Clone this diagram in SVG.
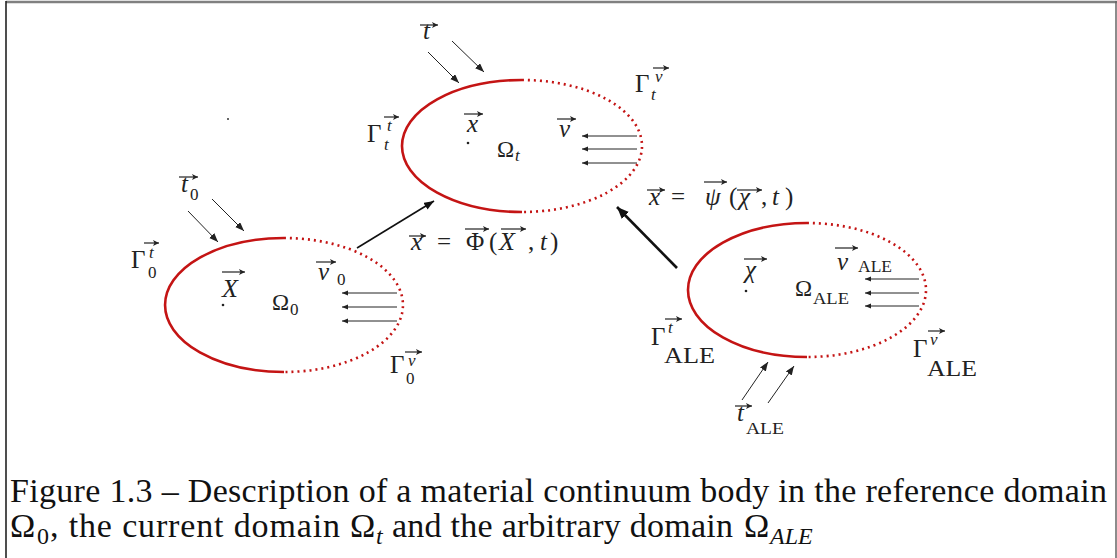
<svg xmlns="http://www.w3.org/2000/svg" width="1117" height="558" viewBox="0 0 1117 558">
<style>
.m{font-family:"Liberation Serif","DejaVu Serif",serif;fill:#222;font-size:25px}
.i{font-style:italic}
.s{font-size:17px}
.al{font-size:17px}
.solid{fill:none;stroke:#c41414;stroke-width:2.6}
.dot{fill:none;stroke:#c41414;stroke-width:2.6;stroke-dasharray:2 4;stroke-linecap:butt}
.tr{stroke:#222;stroke-width:1;fill:none;marker-end:url(#h1)}
.ve{stroke:#222;stroke-width:1;fill:none;marker-end:url(#h2)}
.va{stroke:#222;stroke-width:1.2;fill:none;marker-end:url(#hv)}
.cap{font-family:"Liberation Serif","DejaVu Serif",serif;fill:#111;font-size:34px}
.sub{font-size:24px}
</style>
<defs>
<marker id="h1" markerUnits="userSpaceOnUse" markerWidth="10" markerHeight="8" refX="9" refY="3.5" orient="auto"><path d="M0,0 L9,3.5 L0,7 z" fill="#222"/></marker>
<marker id="h2" markerUnits="userSpaceOnUse" markerWidth="7" markerHeight="6" refX="6" refY="2.5" orient="auto"><path d="M0,0 L6,2.5 L0,5 z" fill="#222"/></marker>
<marker id="h3" markerUnits="userSpaceOnUse" markerWidth="12" markerHeight="10" refX="10" refY="4" orient="auto"><path d="M0,0 L10,4 L0,8 z" fill="#111"/></marker>
<marker id="h4" markerUnits="userSpaceOnUse" markerWidth="14" markerHeight="12" refX="12" refY="5" orient="auto"><path d="M0,0 L12,5 L0,10 z" fill="#111"/></marker>
<marker id="hv" markerUnits="userSpaceOnUse" markerWidth="7" markerHeight="7" refX="6" refY="3" orient="auto"><path d="M0,0 L6,3 L0,6 L1.5,3 z" fill="#222"/></marker>
</defs>
<rect width="1117" height="558" fill="#fff"/>
<g id="frame">
<line x1="6" y1="2" x2="1117" y2="2" stroke="#808080" stroke-width="2.5"/>
<line x1="6" y1="1" x2="6" y2="558" stroke="#222" stroke-width="1.6"/>
<line x1="1116" y1="1" x2="1116" y2="558" stroke="#666" stroke-width="1.5"/>
<rect x="227" y="118" width="2" height="2" fill="#666"/>
</g>
<g id="domain-t">
<path class="solid" d="M522,80 A120,66 0 0 0 522,212"/>
<path class="dot" d="M522,80 A120,66 0 0 1 522,212"/>
<circle cx="468" cy="143" r="1.3" fill="#222"/>
<text class="m i" x="467" y="132">x</text>
<path class="va" d="M464,114 H483"/>
<text class="m" x="497" y="157" style="font-size:23px">Ω</text><text class="m i s" x="515" y="161">t</text>
<text class="m i" x="559" y="137">v</text>
<path class="va" d="M557,119 H576"/>
<text class="m" x="367" y="142">Γ</text><text class="m i s" x="384" y="150">t</text><text class="m i s" x="387" y="131">t</text>
<path class="va" d="M384,117 H399"/>
<text class="m" x="635" y="92">Γ</text><text class="m i s" x="651" y="100">t</text><text class="m i s" x="655" y="82">v</text>
<path class="va" d="M653,68 H669"/>
<text class="m i" x="423" y="39">t</text>
<path class="va" d="M420,25 H438"/>
</g>
<g id="domain-0">
<path class="solid" d="M284,238 A119,67 0 0 0 284,372"/>
<path class="dot" d="M284,238 A119,67 0 0 1 284,372"/>
<circle cx="223" cy="305" r="1.3" fill="#222"/>
<text class="m i" x="222" y="297" style="font-size:26px">X</text>
<path class="va" d="M222,272 H245"/>
<text class="m" x="272" y="310" style="font-size:23px">Ω</text><text class="m s" x="290" y="315">0</text>
<text class="m i" x="318" y="280">v</text><text class="m s" x="337" y="285">0</text>
<path class="va" d="M316,262 H336"/>
<text class="m" x="131" y="268">Γ</text><text class="m s" x="148" y="278">0</text><text class="m i s" x="149" y="258">t</text>
<path class="va" d="M144,243 H159"/>
<text class="m" x="390" y="373">Γ</text><text class="m s" x="406" y="384">0</text><text class="m i s" x="408" y="366">v</text>
<path class="va" d="M405,352 H422"/>
<text class="m i" x="181" y="192">t</text><text class="m s" x="190" y="200">0</text>
<path class="va" d="M179,177 H198"/>
</g>
<g id="domain-ale">
<path class="solid" d="M807,223 A119,67 0 0 0 807,357"/>
<path class="dot" d="M807,223 A119,67 0 0 1 807,357"/>
<circle cx="746" cy="291" r="1.3" fill="#222"/>
<text class="m i" x="745" y="278">χ</text>
<path class="va" d="M744,259 H767"/>
<text class="m" x="795" y="296" style="font-size:23px">Ω</text><text class="m al" x="813" y="304" textLength="36" lengthAdjust="spacingAndGlyphs">ALE</text>
<text class="m i" x="837" y="270">v</text><text class="m al" x="858" y="272" textLength="34" lengthAdjust="spacingAndGlyphs">ALE</text>
<path class="va" d="M835,248 H858"/>
<text class="m" x="651" y="345">Γ</text><text class="m" x="664" y="363" textLength="51" lengthAdjust="spacingAndGlyphs" style="font-size:23px">ALE</text><text class="m i s" x="668" y="333">t</text>
<path class="va" d="M665,319 H682"/>
<text class="m" x="913" y="357">Γ</text><text class="m" x="927" y="376" textLength="50" lengthAdjust="spacingAndGlyphs" style="font-size:23px">ALE</text><text class="m i s" x="930" y="345">v</text>
<path class="va" d="M928,331 H945"/>
<text class="m i" x="737" y="421">t</text><text class="m al" x="746" y="434" textLength="38" lengthAdjust="spacingAndGlyphs" style="font-size:16px">ALE</text>
<path class="va" d="M735,406 H752"/>
</g>
<g id="connectors">
<path class="tr" d="M428,52 L459,83"/>
<path class="tr" d="M452,41 L484,72"/>
<path class="tr" d="M188,211 L218,242"/>
<path class="tr" d="M212,199 L244,231"/>
<path class="tr" d="M742,400 L768,362"/>
<path class="tr" d="M768,403 L794,366"/>
<path class="ve" d="M637,136 H582"/>
<path class="ve" d="M637,149 H582"/>
<path class="ve" d="M637,163 H582"/>
<path class="ve" d="M397,293 H342"/>
<path class="ve" d="M397,307 H342"/>
<path class="ve" d="M397,321 H342"/>
<path class="ve" d="M919,279 H865"/>
<path class="ve" d="M919,293 H865"/>
<path class="ve" d="M919,306 H865"/>
<path d="M357,248 L434,201" stroke="#111" stroke-width="1.6" fill="none" marker-end="url(#h3)"/>
<path d="M677,268 L617,207" stroke="#111" stroke-width="2.6" fill="none" marker-end="url(#h4)"/>
<g id="label-phi">
<text class="m i" x="411" y="250">x</text>
<text class="m" x="437" y="250">=</text>
<text class="m" x="466" y="250">Φ</text>
<text class="m" x="489" y="250">(</text>
<text class="m i" x="499" y="250" style="font-size:26px">X</text>
<text class="m" x="528" y="250">,</text>
<text class="m i" x="540" y="250">t</text>
<text class="m" x="550" y="250">)</text>
<path class="va" d="M409,236 H426"/>
<path class="va" d="M465,229 H489"/>
<path class="va" d="M501,229 H526"/>
</g>
<g id="label-psi">
<text class="m i" x="649" y="205">x</text>
<text class="m" x="671" y="205">=</text>
<text class="m i" x="705" y="205">ψ</text>
<text class="m" x="729" y="205">(</text>
<text class="m i" x="739" y="205">χ</text>
<text class="m" x="761" y="205">,</text>
<text class="m i" x="772" y="205">t</text>
<text class="m" x="785" y="205">)</text>
<path class="va" d="M647,190 H665"/>
<path class="va" d="M704,182 H727"/>
<path class="va" d="M737,190 H762"/>
</g>
</g>
<g id="caption">
<text class="cap" x="10" y="502" textLength="1097" lengthAdjust="spacing">Figure 1.3 – Description of a material continuum body in the reference domain</text>
<text class="cap" x="10" y="537">Ω</text>
<text class="cap sub" x="37" y="544">0</text>
<text class="cap" x="50" y="537" textLength="290" lengthAdjust="spacing">, the current domain</text>
<text class="cap" x="350" y="537">Ω</text>
<text class="cap sub i" x="376" y="544">t</text>
<text class="cap" x="392" y="537" textLength="341" lengthAdjust="spacing">and the arbitrary domain</text>
<text class="cap" x="744" y="537">Ω</text>
<text class="cap sub i" x="770" y="544">ALE</text>
</g>
</svg>
